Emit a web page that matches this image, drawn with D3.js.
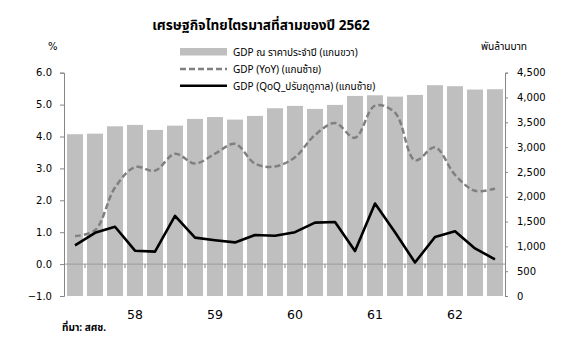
<!DOCTYPE html>
<html><head><meta charset="utf-8">
<script src="https://cdn.jsdelivr.net/npm/d3@7"></script>
<style>
body{margin:0;background:#fff;}
text{font-family:"DejaVu Sans",sans-serif;}
.th{font-family:Tahoma,"Noto Sans Thai","Leelawadee UI","Noto Sans","DejaVu Sans",sans-serif;}
</style></head>
<body>
<svg id="c" width="581" height="357"></svg>
<script>
const quarters = ["57Q2","57Q3","57Q4","58Q1","58Q2","58Q3","58Q4","59Q1","59Q2","59Q3","59Q4",
  "60Q1","60Q2","60Q3","60Q4","61Q1","61Q2","61Q3","61Q4","62Q1","62Q2","62Q3"];
const gdpNominal = [3260, 3272, 3420, 3448, 3347, 3433, 3569, 3606, 3555, 3629, 3784,
  3831, 3770, 3851, 4032, 4045, 4018, 4052, 4248, 4228, 4160, 4167];
const gdpYoY = [0.88, 1.06, 2.4, 3.04, 2.93, 3.46, 3.15, 3.46, 3.77, 3.15, 3.06,
  3.35, 4.05, 4.42, 3.96, 4.97, 4.75, 3.25, 3.66, 2.8, 2.3, 2.37];
const gdpQoQ = [0.59, 0.98, 1.17, 0.42, 0.39, 1.51, 0.83, 0.75, 0.68, 0.91, 0.89,
  1.0, 1.30, 1.32, 0.41, 1.90, 1.0, 0.05, 0.85, 1.03, 0.49, 0.15];
const yearLabels = {"58Q1":"58","59Q1":"59","60Q1":"60","61Q1":"61","62Q1":"62"};
const leftTicks = [-1,0,1,2,3,4,5,6];
const rightTicks = [0,500,1000,1500,2000,2500,3000,3500,4000,4500];
const legendLabels = ["GDP ณ ราคาประจำปี (แกนขวา)","GDP (YoY) (แกนซ้าย)","GDP (QoQ_ปรับฤดูกาล) (แกนซ้าย)"];
const title = "เศรษฐกิจไทยไตรมาสที่สามของปี 2562";

const svg = d3.select("#c");
const L = 64, R = 505, T = 72.7, B = 296;
const x = d3.scaleBand().domain(quarters).range([65, 505]).paddingInner(0.2).paddingOuter(0.1);
const yL = d3.scaleLinear().domain([-1, 6]).range([B, T]);
const yR = d3.scaleLinear().domain([0, 4500]).range([B, T]);
const axisCol = "#868686";

// bars
svg.append("g").selectAll("rect").data(quarters).join("rect")
  .attr("x", d => x(d)).attr("width", x.bandwidth())
  .attr("y", (d,i) => yR(gdpNominal[i])).attr("height", (d,i) => yR(0) - yR(gdpNominal[i]))
  .attr("fill", "#bfbfbf");

// zero axis line with category ticks
const xg = svg.append("g");
xg.append("line").attr("x1", L).attr("x2", R).attr("y1", yL(0)).attr("y2", yL(0))
  .attr("stroke", "#9a9a9a").attr("stroke-width", 1);
const bounds = quarters.map(q => x(q) - x.step()*x.paddingInner()/2).slice(1);
xg.selectAll("line.t").data(bounds).join("line").attr("class","t")
  .attr("x1", d => d).attr("x2", d => d).attr("y1", yL(0)).attr("y2", yL(0)+4)
  .attr("stroke", axisCol);

// left axis
const la = svg.append("g").attr("transform", `translate(${L},0)`)
  .call(d3.axisLeft(yL).tickValues(leftTicks).tickFormat(d3.format(".1f")).tickSize(4).tickPadding(8));
la.select(".domain").attr("stroke", axisCol);
la.selectAll(".tick line").attr("stroke", axisCol);
la.selectAll("text").attr("font-family","DejaVu Sans").attr("font-size", 10).attr("fill","#000");

// right axis
const ra = svg.append("g").attr("transform", `translate(${R},0)`)
  .call(d3.axisRight(yR).tickValues(rightTicks).tickFormat(d3.format(",")).tickSize(3).tickPadding(9));
ra.select(".domain").attr("stroke", axisCol);
ra.selectAll(".tick line").attr("stroke", axisCol);
ra.selectAll("text").attr("font-family","DejaVu Sans").attr("font-size", 10).attr("fill","#000");

// lines
const cx = d => x(d) + x.bandwidth()/2;
const yoyLine = d3.line().x(d => cx(d)).y((d,i) => yL(gdpYoY[i])).curve(d3.curveCatmullRom.alpha(0.5));
svg.append("path").datum(quarters).attr("d", yoyLine).attr("fill","none")
  .attr("stroke","#808080").attr("stroke-width",2.5).attr("stroke-dasharray","6,3");
const qoqLine = d3.line().x(d => cx(d)).y((d,i) => yL(gdpQoQ[i]));
svg.append("path").datum(quarters).attr("d", qoqLine).attr("fill","none")
  .attr("stroke","#000").attr("stroke-width",2.6).attr("stroke-linejoin","round");

// x labels
svg.append("g").selectAll("text").data(quarters.filter(q => yearLabels[q])).join("text")
  .attr("x", d => cx(d)).attr("y", 319).attr("text-anchor","middle")
  .attr("font-family","Liberation Sans, Arial, sans-serif").attr("font-size", 12.5).text(d => yearLabels[d]);

// title & axis titles
svg.append("text").attr("class","th").attr("x", 261).attr("y", 30).attr("text-anchor","middle")
  .attr("font-size", 13.6).attr("font-weight","bold").text(title);
svg.append("text").attr("x", 48).attr("y", 50).attr("font-size", 10).text("%");
svg.append("text").attr("class","th").attr("x", 481).attr("y", 50).attr("font-size", 10.2).text("พันล้านบาท");

// legend
const lg = svg.append("g");
lg.append("rect").attr("x",180).attr("y",48).attr("width",47).attr("height",7.5).attr("fill","#bfbfbf");
lg.append("line").attr("x1",180).attr("x2",227).attr("y1",69).attr("y2",69)
  .attr("stroke","#808080").attr("stroke-width",2.5).attr("stroke-dasharray","6,3");
lg.append("line").attr("x1",180).attr("x2",227).attr("y1",85.7).attr("y2",85.7)
  .attr("stroke","#000").attr("stroke-width",2.6);
lg.selectAll("text").data(legendLabels).join("text").attr("class","th")
  .attr("x", 233).attr("y", (d,i) => 55.5 + i*17).attr("font-size", 10).text(d => d);

// source
svg.append("text").attr("class","th").attr("x", 62).attr("y", 331).attr("font-size", 10)
  .attr("font-weight","bold").text("ที่มา: สศช.");
</script>
</body></html>
